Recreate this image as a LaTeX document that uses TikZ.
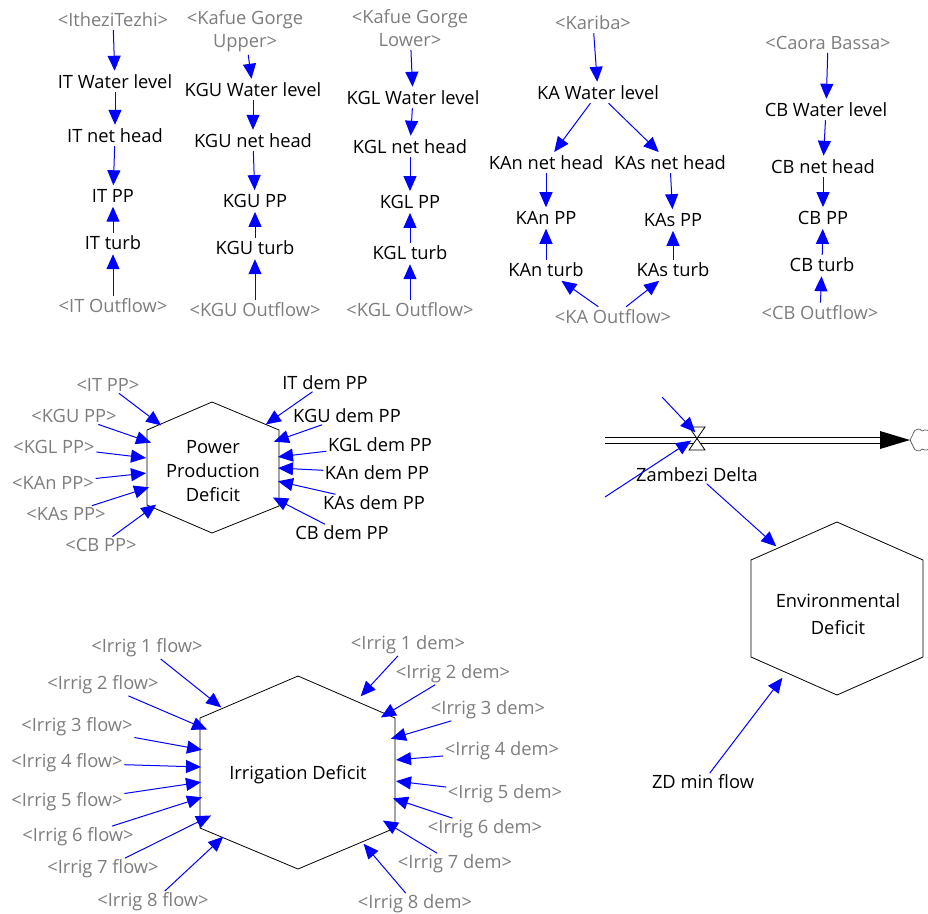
\documentclass[tikz,border=0pt]{standalone}
\usepackage{fontspec}
\setmainfont{Open Sans}
\usetikzlibrary{arrows.meta}
\definecolor{lblgray}{RGB}{125,125,125}
\definecolor{arrblue}{RGB}{0,0,255}
\definecolor{cloudgray}{RGB}{90,90,90}
\begin{document}
\begin{tikzpicture}[x=1pt,y=-1pt,
  every node/.style={font=\fontsize{18.3}{23}\selectfont, inner sep=2pt, align=center},
  var/.style={text=black, inner sep=3pt},
  shad/.style={text=lblgray, inner sep=3pt},
  hlbl/.style={inner sep=1.5pt},
  arr/.style={draw=arrblue, line width=1pt, -{Triangle[length=15pt,width=13pt]}, shorten >=1pt},
  hexline/.style={draw=black, line width=0.8pt},
  pipe/.style={draw=black, line width=0.8pt},
]
\useasboundingbox (0,0) rectangle (928,913);

% ---------- IT column ----------
\node[shad] (ith) at (113,20) {<ItheziTezhi>};
\node[var] (itwl) at (115,82) {IT Water level};
\node[var] (itnh) at (115,136) {IT net head};
\node[var] (itpp) at (113,196) {IT PP};
\node[var] (ittb) at (113,243) {IT turb};
\node[shad] (itof) at (113,306) {<IT Outflow>};
\draw[arr] (ith) -- (itwl);
\draw[arr] (itwl) -- (itnh);
\draw[arr] (itnh) -- (itpp);
\draw[arr] (ittb) -- (itpp);
\draw[arr] (itof) -- (ittb);

% ---------- KGU column ----------
\node[shad] (kgu) at (245,31) {<Kafue Gorge\\Upper>};
\node[var] (kguwl) at (253,90) {KGU Water level};
\node[var] (kgunh) at (253,141) {KGU net head};
\node[var] (kgupp) at (255,201) {KGU PP};
\node[var] (kgutb) at (255,248) {KGU turb};
\node[shad] (kguof) at (255,310) {<KGU Outflow>};
\draw[arr] (kgu) -- (kguwl);
\draw[arr] (kguwl) -- (kgunh);
\draw[arr] (kgunh) -- (kgupp);
\draw[arr] (kgutb) -- (kgupp);
\draw[arr] (kguof) -- (kgutb);

% ---------- KGL column ----------
\node[shad] (kgl) at (410,28) {<Kafue Gorge\\Lower>};
\node[var] (kglwl) at (413,98) {KGL Water level};
\node[var] (kglnh) at (410,147) {KGL net head};
\node[var] (kglpp) at (410,202) {KGL PP};
\node[var] (kgltb) at (410,253) {KGL turb};
\node[shad] (kglof) at (410,310) {<KGL Outflow>};
\draw[arr] (kgl) -- (kglwl);
\draw[arr] (kglwl) -- (kglnh);
\draw[arr] (kglnh) -- (kglpp);
\draw[arr] (kgltb) -- (kglpp);
\draw[arr] (kglof) -- (kgltb);

% ---------- KA ----------
\node[shad] (kar) at (593,23) {<Kariba>};
\node[var] (kawl) at (598,93) {KA Water level};
\node[var] (kannh) at (546,163) {KAn net head};
\node[var] (kasnh) at (670,163) {KAs net head};
\node[var] (kanpp) at (546,218) {KAn PP};
\node[var] (kaspp) at (673,220) {KAs PP};
\node[var] (kantb) at (546,270) {KAn turb};
\node[var] (kastb) at (673,270) {KAs turb};
\node[shad] (kaof) at (613,317) {<KA Outflow>};
\draw[arr] (kar) -- (kawl);
\draw[arr] (kawl) -- (kannh);
\draw[arr] (kawl) -- (kasnh);
\draw[arr] (kannh) -- (kanpp);
\draw[arr] (kasnh) -- (kaspp);
\draw[arr] (kantb) -- (kanpp);
\draw[arr] (kastb) -- (kaspp);
\draw[arr] (kaof) -- (kantb);
\draw[arr] (kaof) -- (kastb);

% ---------- CB ----------
\node[shad] (cb) at (828,43) {<Caora Bassa>};
\node[var] (cbwl) at (826,110) {CB Water level};
\node[var] (cbnh) at (823,167) {CB net head};
\node[var] (cbpp) at (823,218) {CB PP};
\node[var] (cbtb) at (822,265) {CB turb};
\node[shad] (cbof) at (820,313) {<CB Outflow>};
\draw[arr] (cb) -- (cbwl);
\draw[arr] (cbwl) -- (cbnh);
\draw[arr] (cbnh) -- (cbpp);
\draw[arr] (cbtb) -- (cbpp);
\draw[arr] (cbof) -- (cbtb);

% ---------- Power Production Deficit ----------
\draw[hexline] (212,402) -- (279,430) -- (279,506) -- (212,533) -- (147,505) -- (147,430) -- cycle;
\node[font=\fontsize{18.3}{24}\selectfont] (ppd) at (213,471) {Power\\Production\\Deficit};
\foreach \t/\lx/\ly/\ex/\ey [count=\i] in {
  <IT PP>/108/385/162/426, <KGU PP>/74/416/152/443, <KGL PP>/54/447/147/458,
  <KAn PP>/53/483/147/473, <KAs PP>/66/514/150/487, <CB PP>/101/545/157/504} {
  \node[shad, hlbl] (ppl\i) at (\lx,\ly) {\t};
  \coordinate (ppt\i) at (\ex,\ey);
  \draw[arr] (ppl\i) -- (ppt\i);
}
\foreach \t/\lx/\ly/\ex/\ey [count=\i] in {
  IT dem PP/325/383/265/425, KGU dem PP/347/416/273/442, KGL dem PP/380/445/277/457,
  KAn dem PP/377/473/277/468, KAs dem PP/374/503/277/481, CB dem PP/342/533/272/497} {
  \node[var, hlbl] (ppr\i) at (\lx,\ly) {\t};
  \coordinate (pprt\i) at (\ex,\ey);
  \draw[arr] (ppr\i) -- (pprt\i);
}

% ---------- Zambezi Delta flow ----------
\coordinate (pipein) at (605,440);
\coordinate (valve) at (697,440);
\coordinate (pipeend) at (882,440);
\draw[pipe] (605,437) -- (882,437);
\draw[pipe] (605,443) -- (882,443);
\fill[black] (880,431) -- (910,440) -- (880,449) -- cycle;
\draw[fill=white, line width=0.8pt] (689,427) -- (705,427) -- (689,450) -- (705,450) -- cycle;
\draw[cloudgray, line width=0.7pt]
  (910,440) .. controls (912,437) .. (913,434)
  .. controls (914,428) and (921,428) .. (922,431)
  .. controls (925,429) and (930,430) .. (930,433);
\draw[cloudgray, line width=0.7pt]
  (910,440) .. controls (912,443) .. (913,446)
  .. controls (914,452) and (921,452) .. (922,449)
  .. controls (925,451) and (930,450) .. (930,447);
\node[var, hlbl] (zd) at (697,475) {Zambezi Delta};
\coordinate (vsrc1) at (662,397);
\coordinate (vsrc2) at (605,497);
\coordinate (vtop) at (696,433);
\coordinate (vleft) at (692,440);
\draw[arr] (vsrc1) -- (vtop);
\draw[arr] (vsrc2) -- (vleft);

% ---------- Environmental Deficit ----------
\draw[hexline] (837,522) -- (923,560) -- (923,657) -- (837,695) -- (751,657) -- (751,560) -- cycle;
\node[font=\fontsize{18.3}{27}\selectfont] (envd) at (838,614) {Environmental\\Deficit};
\coordinate (envt1) at (777,547);
\coordinate (envt2) at (783,677);
\draw[arr] (zd) -- (envt1);
\node[var, hlbl] (zdmin) at (703,782) {ZD min flow};
\draw[arr] (zdmin) -- (envt2);

% ---------- Irrigation Deficit ----------
\draw[hexline] (298,676) -- (395,718) -- (395,828) -- (298,869) -- (200,828) -- (200,718) -- cycle;
\node (irrd) at (298,775) {Irrigation Deficit};
\foreach \n/\lx/\ly/\ex/\ey in {
  1/147/648/222/708, 2/103/685/208/730, 3/77/727/203/750, 4/67/763/202/767,
  5/67/802/202/782, 6/78/837/203/797, 7/103/869/212/815, 8/153/902/224/836} {
  \node[shad, hlbl] (irf\n) at (\lx,\ly) {<Irrig \n\ flow>};
  \coordinate (irft\n) at (\ex,\ey);
  \draw[arr] (irf\n) -- (irft\n);
}
\foreach \n/\lx/\ly/\ex/\ey in {
  1/408/645/360/697, 2/453/674/380/718, 3/488/710/390/739, 4/502/751/395/760,
  5/505/794/395/781, 6/485/829/392/798, 7/455/864/382/820, 8/415/904/363/843} {
  \node[shad, hlbl] (ird\n) at (\lx,\ly) {<Irrig \n\ dem>};
  \coordinate (irdt\n) at (\ex,\ey);
  \draw[arr] (ird\n) -- (irdt\n);
}
\end{tikzpicture}
\end{document}
